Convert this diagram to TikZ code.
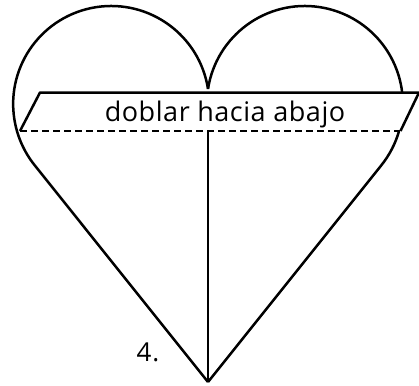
\documentclass[tikz,border=0pt]{standalone}
\usepackage{fontspec}
\setmainfont{Open Sans}
\usetikzlibrary{calc}
\begin{document}
\begin{tikzpicture}[x=1pt,y=-1pt,
  outline/.style={line width=2.5pt, line join=round},
  foldline/.style={line width=2.4pt, dash pattern=on 7pt off 4pt},
  label/.style={inner sep=0pt, font=\fontsize{27}{32}\selectfont\addfontfeature{LetterSpace=2}},
  steplabel/.style={inner sep=0pt, font=\fontsize{26}{30}\selectfont\addfontfeature{LetterSpace=3}}]
\useasboundingbox (0,0) rectangle (419,385);
% key points
\coordinate (cusp) at (208,89);
\coordinate (tip) at (208,382);
\coordinate (rlow) at ($(304.85,104)+(16:98)$);
\coordinate (btl) at (40,92.5);
\coordinate (btr) at (419,92.5);
\coordinate (bbr) at (400.5,131);
\coordinate (bbl) at (20,131);
\coordinate (dashend) at (400,131);
\coordinate (midtop) at (208,131);
% left lobe and left side
\draw[outline] (cusp) arc[start angle=-8.8, end angle=-218.66, radius=98] -- (tip);
% right lobe above band
\draw[outline] (cusp) arc[start angle=188.8, end angle=352.9, radius=98];
% right side below band
\draw[outline] (rlow) arc[start angle=16, end angle=38.66, radius=98] -- (tip);
% band
\draw[outline] (bbl) -- (btl) -- (btr) -- (bbr);
\draw[foldline] (bbl) -- (dashend);
% centre crease
\draw[line width=2.2pt] (midtop) -- (tip);
% texts
\node[label, anchor=base] (t) at (225,121.7) {doblar hacia abajo};
\node[steplabel, anchor=base west] (n) at (136.5,361) {4.};
\end{tikzpicture}
\end{document}
